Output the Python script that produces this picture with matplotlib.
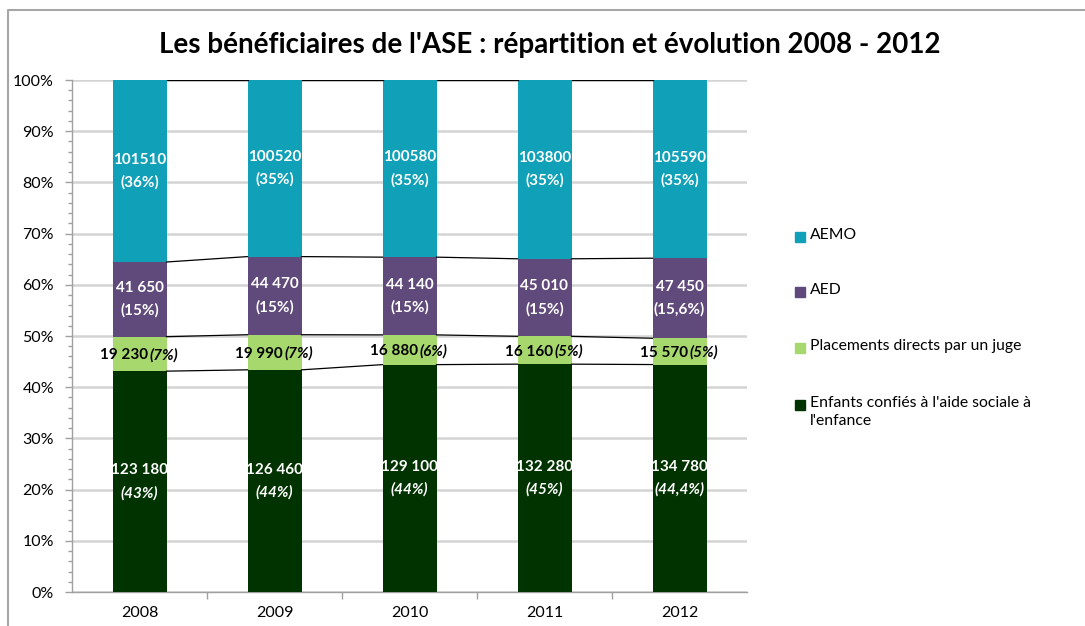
import numpy as np
import matplotlib
matplotlib.use("Agg")
import matplotlib.pyplot as plt
from matplotlib.patches import Rectangle
from matplotlib.lines import Line2D
from matplotlib.ticker import MultipleLocator, PercentFormatter

plt.rcParams['font.family'] = ['Lato', 'DejaVu Sans']

#--------------------------------------------------------------------------------------
# data
#--------------------------------------------------------------------------------------
years = ["2008", "2009", "2010", "2011", "2012"]
series_names = ["Enfants confiés à l'aide sociale à\nl'enfance",
                "Placements directs par un juge", "AED", "AEMO"]
enfants = [123180, 126460, 129100, 132280, 134780]
placements = [19230, 19990, 16880, 16160, 15570]
aed = [41650, 44470, 44140, 45010, 47450]
aemo = [101510, 100520, 100580, 103800, 105590]

enfants_lbl = ["123 180", "126 460", "129 100", "132 280", "134 780"]
enfants_pct = ["(43%)", "(44%)", "(44%)", "(45%)", "(44,4%)"]
placements_lbl = ["19 230", "19 990", "16 880", "16 160", "15 570"]
placements_pct = ["(7%)", "(7%)", "(6%)", "(5%)", "(5%)"]
aed_lbl = ["41 650", "44 470", "44 140", "45 010", "47 450"]
aed_pct = ["(15%)", "(15%)", "(15%)", "(15%)", "(15,6%)"]
aemo_lbl = ["101510", "100520", "100580", "103800", "105590"]
aemo_pct = ["(36%)", "(35%)", "(35%)", "(35%)", "(35%)"]

colors = ["#013300", "#a7d86d", "#604a7b", "#10a0b7"]

W, H = 1085, 626
fig = plt.figure(figsize=(W / 100, H / 100), dpi=100)
ax = fig.add_axes([72 / W, 1 - 592 / H, 675 / W, 512 / H])

#--------------------------------------------------------------------------------------
# stacked 100% bars
#--------------------------------------------------------------------------------------
data = np.array([enfants, placements, aed, aemo], dtype=float)
share = data / data.sum(axis=0) * 100
x = np.arange(len(years))
bw = 0.4
bottom = np.zeros(len(years))
tops = []
for i in range(4):
    ax.bar(x, share[i], bw, bottom=bottom, color=colors[i], zorder=3)
    bottom = bottom + share[i]
    tops.append(bottom.copy())

# series lines between bars
for lvl in tops:
    for j in range(len(years) - 1):
        ax.plot([x[j] + bw / 2, x[j + 1] - bw / 2], [lvl[j], lvl[j + 1]],
                color="black", lw=0.9, zorder=4)

#--------------------------------------------------------------------------------------
# labels
#--------------------------------------------------------------------------------------
fs = 11
def two_lines(xx, yy, top, bot, italic_bot=False):
    ax.annotate(top, (xx, yy), xytext=(0, 3), textcoords="offset points",
                ha="center", va="bottom", color="white", fontsize=fs,
                fontweight="bold", zorder=5)
    ax.annotate(bot, (xx, yy), xytext=(0, -3), textcoords="offset points",
                ha="center", va="top", color="white", fontsize=fs, fontweight="bold",
                style="italic" if italic_bot else "normal", zorder=5)

for j in range(len(years)):
    two_lines(x[j], share[0][j] / 2, enfants_lbl[j], enfants_pct[j], italic_bot=True)
    mid = tops[0][j] + share[1][j] / 2
    ax.annotate(placements_lbl[j], (x[j], mid), xytext=(6, -1), textcoords="offset points",
                ha="right", va="center", fontsize=fs, fontweight="bold", zorder=5)
    ax.annotate(placements_pct[j], (x[j], mid), xytext=(7, -1), textcoords="offset points",
                ha="left", va="center", fontsize=fs, fontweight="bold", style="italic", zorder=5)
    two_lines(x[j], tops[1][j] + share[2][j] / 2, aed_lbl[j], aed_pct[j])
    two_lines(x[j], tops[2][j] + share[3][j] / 2, aemo_lbl[j], aemo_pct[j])

#--------------------------------------------------------------------------------------
# axes custom
#--------------------------------------------------------------------------------------
ax.set_xlim(-0.5, len(years) - 0.5)
ax.set_ylim(0, 100)
ax.yaxis.set_major_locator(MultipleLocator(10))
ax.yaxis.set_minor_locator(MultipleLocator(2))
ax.yaxis.set_major_formatter(PercentFormatter(decimals=0))
ax.set_xticks(x)
ax.set_xticklabels(years)
ax.set_xticks(np.arange(0.5, len(years) - 1, 1), minor=True)
ax.tick_params(axis="x", which="major", length=0, pad=10, labelsize=11.5)
ax.tick_params(axis="x", which="minor", length=5, color="#a0a0a0", width=1)
ax.tick_params(axis="y", which="major", length=5, color="#a0a0a0", width=1, labelsize=11.5, pad=8)
ax.tick_params(axis="y", which="minor", length=3, color="#a0a0a0", width=1)
ax.grid(axis="y", which="major", color="#d4d4d4", lw=1.8, zorder=0)
ax.set_axisbelow(True)
for s in ["top", "right"]:
    ax.spines[s].set_visible(False)
for s in ["left", "bottom"]:
    ax.spines[s].set_color("#a0a0a0")
    ax.spines[s].set_linewidth(1)

fig.text(550 / W, 1 - 45 / H, "Les bénéficiaires de l'ASE : répartition et évolution 2008 - 2012",
         ha="center", va="center", fontsize=20, fontweight="bold")

#--------------------------------------------------------------------------------------
# legend (hand placed)
#--------------------------------------------------------------------------------------
leg_y = [405, 348, 292, 237]
for i in range(4):
    yc = leg_y[i]
    fig.add_artist(Rectangle((795 / W, 1 - (yc + 5) / H), 10 / W, 10 / H,
                             transform=fig.transFigure, color=colors[i]))
    fig.text(810 / W, 1 - (yc - 9) / H, series_names[i], ha="left", va="top",
             fontsize=11.3, linespacing=1.35)

# chart frame
fig.add_artist(Line2D([8 / W, 8 / W, 1], [0, 1 - 10 / H, 1 - 10 / H],
                      transform=fig.transFigure, color="#a6a6a6", lw=1.5))

plt.savefig("out.png", dpi=100)
